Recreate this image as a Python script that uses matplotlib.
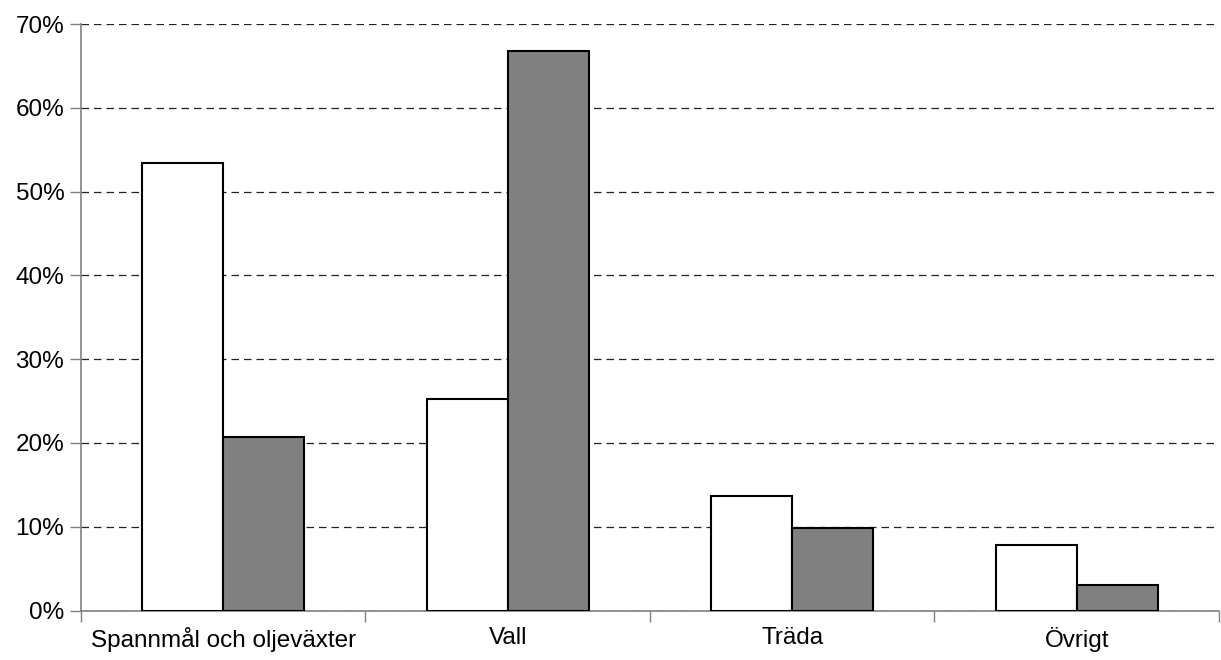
import numpy as np
import matplotlib.pyplot as plt
from matplotlib.ticker import PercentFormatter

# andel av arealen per grödgrupp, två serier
categories = ["Spannmål och oljeväxter", "Vall", "Träda", "Övrigt"]
serie_a = [53.4, 25.2, 13.7, 7.8]
serie_b = [20.7, 66.8, 9.8, 3.0]

plt.rcParams['font.family'] = ['Liberation Sans', 'DejaVu Sans']

fig = plt.figure(figsize=(12.21, 6.6), dpi=100)
ax = fig.add_axes([0.0663, 0.075, 0.932, 0.8886])

x = np.arange(len(categories))
w = 0.285
ax.bar(x - w / 2, serie_a, w, color="white", edgecolor="black", linewidth=1.5, zorder=3)
ax.bar(x + w / 2, serie_b, w, color="#808080", edgecolor="black", linewidth=1.5, zorder=3)

ax.set_xlim(-0.5, len(categories) - 0.5)
ax.set_ylim(0, 70)
ax.set_yticks(np.arange(0, 71, 10))
ax.yaxis.set_major_formatter(PercentFormatter(decimals=0))
ax.yaxis.grid(True, linestyle=(0, (6, 4)), color="#222222", linewidth=0.9, zorder=0)

# category labels centred, tick marks at the boundaries
ax.set_xticks(x)
ax.set_xticklabels(categories)
ax.tick_params(axis="x", length=0, pad=12, labelsize=17.5)
ax.set_xticks(np.arange(-0.5, len(categories)), minor=True)
ax.tick_params(axis="x", which="minor", length=8, width=1, color="#808080")
ax.tick_params(axis="y", length=8, width=1, color="#808080", labelsize=17.5, pad=4)

for s in ["top", "right"]:
    ax.spines[s].set_visible(False)
for s in ["left", "bottom"]:
    ax.spines[s].set_color("#808080")
    ax.spines[s].set_linewidth(1.2)

fig.savefig("out.png", dpi=100)
